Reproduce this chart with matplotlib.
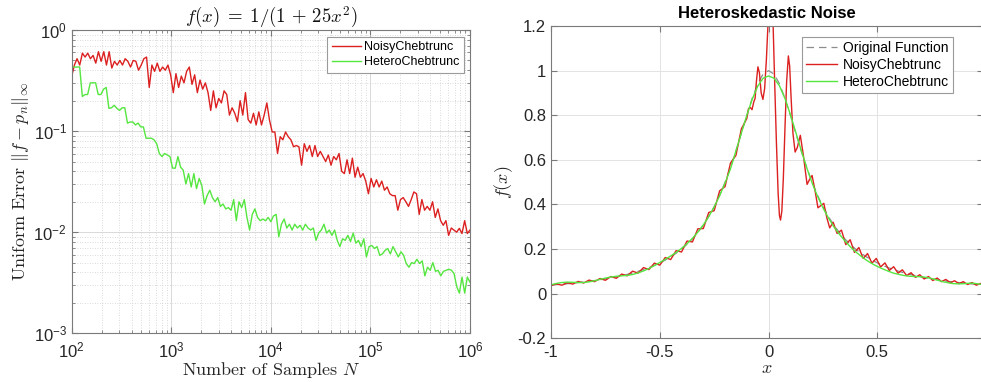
import numpy as np
import matplotlib
matplotlib.use("Agg")
import matplotlib.pyplot as plt
from matplotlib.ticker import FixedLocator, FuncFormatter, LogLocator, NullFormatter

plt.rcParams['font.family'] = ['Liberation Sans', 'DejaVu Sans']
plt.rcParams['mathtext.fontset'] = 'cm'
plt.rcParams['axes.unicode_minus'] = False

# error vs number of samples (log-spaced N from 1e2 to 1e6)
err_noisy = [
    0.35, 0.45, 0.52, 0.45, 0.59, 0.54, 0.59, 0.52, 0.56, 0.47,
    0.61, 0.49, 0.61, 0.45, 0.61, 0.42, 0.49, 0.45, 0.50, 0.45,
    0.52, 0.49, 0.43, 0.50, 0.49, 0.40, 0.45, 0.52, 0.54, 0.27,
    0.45, 0.39, 0.47, 0.39, 0.43, 0.40, 0.45, 0.36, 0.24, 0.37,
    0.27, 0.35, 0.30, 0.39, 0.43, 0.29, 0.36, 0.24, 0.32, 0.26,
    0.30, 0.24, 0.16, 0.25, 0.17, 0.21, 0.19, 0.25, 0.23, 0.144,
    0.17, 0.15, 0.124, 0.20, 0.144, 0.24, 0.13, 0.12, 0.15, 0.115,
    0.155, 0.115, 0.144, 0.19, 0.128, 0.098, 0.098, 0.060, 0.088, 0.082,
    0.098, 0.088, 0.082, 0.070, 0.072, 0.070, 0.046, 0.075, 0.063, 0.072,
    0.056, 0.072, 0.056, 0.063, 0.056, 0.050, 0.058, 0.046, 0.056, 0.052,
    0.060, 0.040, 0.038, 0.052, 0.038, 0.054, 0.035, 0.044, 0.035, 0.038,
    0.032, 0.024, 0.034, 0.028, 0.033, 0.028, 0.032, 0.026, 0.028, 0.024,
    0.023, 0.023, 0.0165, 0.021, 0.022, 0.020, 0.018, 0.021, 0.025, 0.024,
    0.015, 0.021, 0.0165, 0.018, 0.0165, 0.020, 0.014, 0.017, 0.013, 0.0117,
    0.013, 0.0093, 0.011, 0.0105, 0.010, 0.0109, 0.0097, 0.013, 0.0097, 0.0105,
]
err_hetero = [
    0.43, 0.43, 0.43, 0.43, 0.22, 0.23, 0.23, 0.30, 0.30, 0.30,
    0.23, 0.23, 0.26, 0.27, 0.168, 0.17, 0.18, 0.168, 0.16, 0.17,
    0.17, 0.12, 0.123, 0.123, 0.115, 0.12, 0.11, 0.11, 0.085, 0.085,
    0.085, 0.082, 0.075, 0.060, 0.056, 0.060, 0.058, 0.056, 0.043, 0.043,
    0.056, 0.044, 0.041, 0.030, 0.038, 0.028, 0.038, 0.027, 0.034, 0.029,
    0.019, 0.023, 0.026, 0.022, 0.020, 0.022, 0.018, 0.019, 0.017, 0.0175,
    0.0165, 0.021, 0.013, 0.020, 0.0175, 0.021, 0.014, 0.0105, 0.015, 0.017,
    0.014, 0.013, 0.0135, 0.013, 0.014, 0.0127, 0.0145, 0.015, 0.009, 0.012,
    0.0135, 0.011, 0.012, 0.0105, 0.012, 0.011, 0.0117, 0.0105, 0.012, 0.011,
    0.0105, 0.011, 0.0083, 0.0098, 0.0105, 0.012, 0.0098, 0.0105, 0.0093, 0.0105,
    0.0083, 0.0072, 0.0086, 0.0083, 0.0093, 0.0081, 0.0098, 0.0078, 0.0083, 0.0072,
    0.0086, 0.0057, 0.0072, 0.0074, 0.0069, 0.0072, 0.0059, 0.0061, 0.0066, 0.0069,
    0.0061, 0.0072, 0.0064, 0.0057, 0.0064, 0.0059, 0.0049, 0.0045, 0.0050, 0.0049,
    0.0054, 0.0049, 0.0052, 0.0037, 0.0045, 0.0042, 0.0050, 0.0041, 0.0042, 0.0037,
    0.0041, 0.0042, 0.0043, 0.0042, 0.0039, 0.0029, 0.0025, 0.0036, 0.0025, 0.0036,
    0.0032,
]
n_noisy = np.logspace(2, 6, len(err_noisy))
n_hetero = np.logspace(2, 6, len(err_hetero))

# function fits on [-1, 1]
x_grid = [
    -1.000, -0.975, -0.950, -0.925, -0.900, -0.875, -0.850, -0.825, -0.800, -0.775,
    -0.750, -0.725, -0.700, -0.675, -0.650, -0.625, -0.600, -0.575, -0.550, -0.525,
    -0.500, -0.475, -0.450, -0.425, -0.400, -0.375, -0.350, -0.325, -0.300, -0.275,
    -0.250, -0.225, -0.200, -0.175, -0.150, -0.125, -0.100, -0.075, -0.050, -0.025,
    0.000, 0.025, 0.050, 0.075, 0.100, 0.125, 0.150, 0.175, 0.200, 0.225,
    0.250, 0.275, 0.300, 0.325, 0.350, 0.375, 0.400, 0.425, 0.450, 0.475,
    0.500, 0.525, 0.550, 0.575, 0.600, 0.625, 0.650, 0.675, 0.700, 0.725,
    0.750, 0.775, 0.800, 0.825, 0.850, 0.875, 0.900, 0.925, 0.950, 0.975, 1.000,
]
f_orig = [
    0.0385, 0.0404, 0.0424, 0.0447, 0.0471, 0.0497, 0.0525, 0.0555, 0.0588, 0.0624,
    0.0664, 0.0707, 0.0755, 0.0807, 0.0865, 0.0929, 0.1000, 0.1079, 0.1168, 0.1267,
    0.1379, 0.1506, 0.1650, 0.1813, 0.2000, 0.2215, 0.2462, 0.2747, 0.3077, 0.3460,
    0.3902, 0.4413, 0.5000, 0.5664, 0.6400, 0.7190, 0.8000, 0.8767, 0.9412, 0.9846,
    1.0000, 0.9846, 0.9412, 0.8767, 0.8000, 0.7190, 0.6400, 0.5664, 0.5000, 0.4413,
    0.3902, 0.3460, 0.3077, 0.2747, 0.2462, 0.2215, 0.2000, 0.1813, 0.1650, 0.1506,
    0.1379, 0.1267, 0.1168, 0.1079, 0.1000, 0.0929, 0.0865, 0.0807, 0.0755, 0.0707,
    0.0664, 0.0624, 0.0588, 0.0555, 0.0525, 0.0497, 0.0471, 0.0447, 0.0424, 0.0404, 0.0385,
]
f_hetero = [
    0.040, 0.046, 0.050, 0.052, 0.051, 0.050, 0.050, 0.053, 0.058, 0.064,
    0.070, 0.075, 0.078, 0.080, 0.082, 0.086, 0.093, 0.102, 0.113, 0.126,
    0.140, 0.154, 0.169, 0.185, 0.203, 0.224, 0.248, 0.276, 0.308, 0.346,
    0.389, 0.439, 0.496, 0.560, 0.640, 0.720, 0.800, 0.872, 0.930, 0.966,
    0.976, 0.966, 0.932, 0.876, 0.804, 0.724, 0.643, 0.566, 0.497, 0.437,
    0.385, 0.340, 0.300, 0.267, 0.238, 0.211, 0.188, 0.168, 0.150, 0.135,
    0.122, 0.111, 0.101, 0.092, 0.086, 0.081, 0.078, 0.077, 0.076, 0.073,
    0.068, 0.061, 0.054, 0.049, 0.045, 0.044, 0.045, 0.047, 0.046, 0.042, 0.038,
]
x_noisy = [
    -1.000, -0.975, -0.950, -0.925, -0.900, -0.875, -0.850, -0.825, -0.800, -0.775,
    -0.750, -0.725, -0.700, -0.675, -0.650, -0.625, -0.600, -0.575, -0.550, -0.525,
    -0.500, -0.475, -0.450, -0.425, -0.400, -0.375, -0.350, -0.325, -0.300, -0.275,
    -0.250, -0.225, -0.200, -0.175, -0.150, -0.125, -0.100, -0.092, -0.084, -0.076,
    -0.068, -0.062, -0.056, -0.049, -0.042, -0.034, -0.026, -0.018, -0.010, -0.003,
    0.004, 0.010, 0.016, 0.021, 0.028, 0.036, 0.044, 0.050, 0.055, 0.061,
    0.068, 0.076, 0.083, 0.091, 0.097, 0.104, 0.112, 0.122, 0.132, 0.146,
    0.160, 0.177, 0.190, 0.200, 0.214, 0.227, 0.240, 0.254, 0.268, 0.281,
    0.297, 0.315, 0.335, 0.355, 0.375, 0.395, 0.415, 0.435, 0.455, 0.475,
    0.495, 0.515, 0.535, 0.555, 0.575, 0.595, 0.615, 0.635, 0.655, 0.675,
    0.695, 0.715, 0.735, 0.755, 0.775, 0.795, 0.815, 0.835, 0.855, 0.875,
    0.895, 0.915, 0.935, 0.955, 0.975, 0.995,
]
f_noisy = [
    0.036, 0.044, 0.038, 0.049, 0.043, 0.055, 0.048, 0.061, 0.054, 0.068,
    0.060, 0.077, 0.069, 0.088, 0.080, 0.101, 0.092, 0.117, 0.108, 0.137,
    0.128, 0.162, 0.153, 0.193, 0.187, 0.236, 0.232, 0.291, 0.292, 0.364,
    0.372, 0.461, 0.480, 0.586, 0.620, 0.739, 0.785, 0.830, 0.835, 0.825,
    0.860, 0.875, 0.950, 1.017, 0.990, 0.900, 0.871, 0.920, 1.050, 1.200,
    1.330, 1.380, 1.330, 1.200, 0.950, 0.680, 0.450, 0.350, 0.330, 0.370,
    0.520, 0.760, 0.950, 1.066, 1.020, 0.870, 0.720, 0.635, 0.655, 0.710,
    0.620, 0.490, 0.515, 0.530, 0.460, 0.385, 0.395, 0.405, 0.340, 0.295,
    0.320, 0.270, 0.285, 0.220, 0.242, 0.185, 0.207, 0.158, 0.180, 0.137,
    0.158, 0.120, 0.138, 0.104, 0.121, 0.092, 0.107, 0.081, 0.094, 0.073,
    0.085, 0.066, 0.077, 0.059, 0.070, 0.054, 0.064, 0.049, 0.058, 0.045,
    0.054, 0.041, 0.050, 0.038, 0.046, 0.036,
]

red = '#dc2020'
green = '#55e640'
tick_col = '#262626'
spine_col = '#7a7a7a'

fig = plt.figure(figsize=(9.81, 3.82), dpi=100)


def style_axes(ax):
    for s in ax.spines.values():
        s.set_color(spine_col)
        s.set_linewidth(0.8)
    ax.tick_params(which='both', direction='in', top=True, right=True,
                   colors=spine_col, labelcolor=tick_col, labelsize=12)
    ax.tick_params(which='major', length=4)
    ax.tick_params(which='minor', length=2)


# left panel: convergence of the uniform error
ax1 = fig.add_axes([0.0731, 0.1275, 0.406, 0.794])
ax1.plot(n_noisy, err_noisy, color=red, lw=1.0, label='NoisyChebtrunc')
ax1.plot(n_hetero, err_hetero, color=green, lw=1.0, label='HeteroChebtrunc')
ax1.set_xscale('log')
ax1.set_yscale('log')
ax1.set_xlim(1e2, 1e6)
ax1.set_ylim(1e-3, 1e0)
ax1.xaxis.set_major_locator(LogLocator(base=10, numticks=10))
ax1.xaxis.set_minor_locator(LogLocator(base=10, subs=np.arange(2, 10), numticks=50))
ax1.yaxis.set_minor_locator(LogLocator(base=10, subs=np.arange(2, 10), numticks=50))
ax1.xaxis.set_minor_formatter(NullFormatter())
ax1.yaxis.set_minor_formatter(NullFormatter())
ax1.grid(True, which='major', color='#d9d9d9', lw=0.7)
ax1.grid(True, which='minor', color='#cfcfcf', lw=0.6, ls=(0, (1, 2)))
ax1.set_axisbelow(True)
style_axes(ax1)
ax1.tick_params(axis='x', pad=5)
ax1.set_title(r'$f(x)\;=\;1/(1\,+\,25x^2)$', fontsize=13.5, color='#111111', pad=5)
ax1.set_xlabel(r'Number of Samples $N$', family='cmr10', fontsize=13, color=tick_col, labelpad=0)
ax1.set_ylabel(r'Uniform Error $\|f-p_n\|_\infty$', family='cmr10', fontsize=13, color=tick_col, labelpad=2)
leg1 = ax1.legend(loc='upper right', bbox_to_anchor=(0.985, 0.978), borderaxespad=0,
                  fontsize=9, fancybox=False, framealpha=1, edgecolor='#9a9a9a',
                  handlelength=2.3, handletextpad=0.3, borderpad=0.35, labelspacing=0.25)
leg1.get_frame().set_linewidth(0.8)

# right panel: fitted functions
ax2 = fig.add_axes([0.5617, 0.1144, 0.4404, 0.8175])
ax2.plot(x_grid, f_orig, color='#8c8c8c', lw=0.9, ls=(0, (6, 4)), label='Original Function')
ax2.plot(x_noisy, f_noisy, color=red, lw=1.0, label='NoisyChebtrunc')
ax2.plot(x_grid, f_hetero, color=green, lw=1.0, label='HeteroChebtrunc')
ax2.set_xlim(-1, 0.986)
ax2.set_ylim(-0.2, 1.2)
ax2.xaxis.set_major_locator(FixedLocator([-1, -0.5, 0, 0.5]))
ax2.yaxis.set_major_locator(FixedLocator(np.arange(-0.2, 1.21, 0.2)))
ax2.xaxis.set_major_formatter(FuncFormatter(lambda v, p: '%g' % round(v, 2)))
ax2.yaxis.set_major_formatter(FuncFormatter(lambda v, p: '%g' % round(v, 2)))
ax2.grid(True, color='#e3e3e3', lw=0.7)
ax2.set_axisbelow(True)
style_axes(ax2)
ax2.tick_params(axis='x', pad=5)
ax2.set_title('Heteroskedastic Noise', fontsize=12, fontweight='bold', color='#000000', pad=6)
ax2.set_xlabel(r'$x$', fontsize=13, color=tick_col, labelpad=0)
ax2.set_ylabel(r'$f(x)$', fontsize=13, color=tick_col, labelpad=2)
leg2 = ax2.legend(loc='upper right', bbox_to_anchor=(0.930, 0.965), borderaxespad=0,
                  fontsize=10, fancybox=False, framealpha=1, edgecolor='#9a9a9a',
                  handlelength=2.2, handletextpad=0.4, borderpad=0.3, labelspacing=0.2)
leg2.get_frame().set_linewidth(0.8)

fig.savefig('out.png', dpi=100)
